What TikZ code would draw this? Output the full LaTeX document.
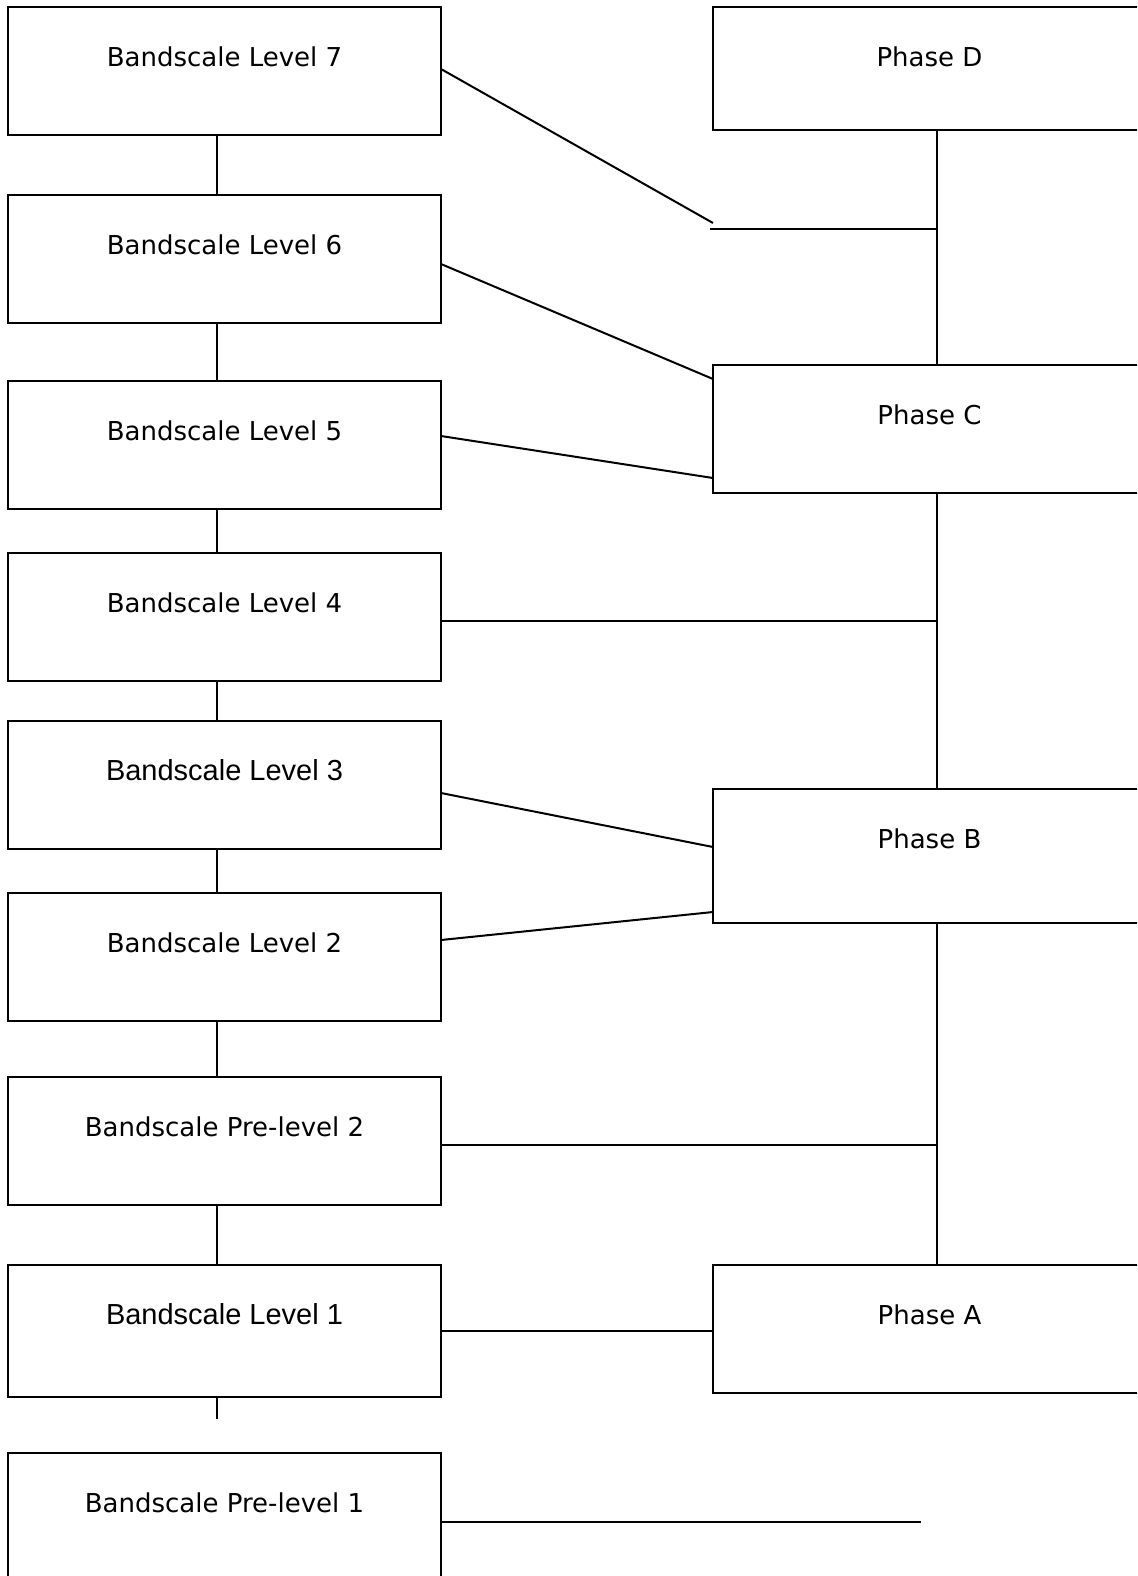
\documentclass[tikz,border=0pt]{standalone}
\usepackage{fontspec}
\setmainfont{DejaVu Sans}
\newfontfamily\arialfam{Liberation Sans}
\newcommand\verdanafont{\fontsize{13pt}{15pt}\selectfont}
\newcommand\arialfont{\arialfam\fontsize{14.5pt}{17pt}\selectfont}

\begin{document}
\begin{tikzpicture}
[x=0.5pt, y=-0.5pt,
  lineDecorate/.style={-,line width=1pt},%
  boxDecorate/.style={shape=rectangle,draw,line width=1pt,anchor=north west,
    inner sep=0pt,outer sep=0pt,minimum width=216.5pt,text height=29.75pt,
    font=\verdanafont}]
\useasboundingbox (0,0) rectangle (1137,1576);
\clip (0,0) rectangle (1137,1576);
%% bandscale boxes
\foreach \nodename/\y/\d/\txt in {L7/7/34.25/Bandscale Level 7,
  L6/195/34.25/Bandscale Level 6, L5/381/34.25/Bandscale Level 5,
  L4/553/34.25/Bandscale Level 4, L3/721/34.25/{\arialfont Bandscale Level 3},
  L2/893/34.25/Bandscale Level 2, PL2/1077/34.25/Bandscale Pre-level 2,
  L1/1265/36.25/{\arialfont Bandscale Level 1}, PL1/1453/34.25/Bandscale Pre-level 1}
{
  \node (\nodename) at (8,\y) [boxDecorate,text depth=\d pt] {\txt};
}
%% phase boxes
\foreach \nodename/\y/\d/\txt in {PhD/7/31.75/Phase D, PhC/365/34.25/Phase C,
  PhB/789/37.25/Phase B, PhA/1265/34.25/Phase A}
{
  \node (\nodename) at (713,\y) [boxDecorate,text depth=\d pt] {\txt};
}
%% spines and junctions
\coordinate (spineL) at (217,0);
\coordinate (spineR) at (937,0);
\coordinate (stubL) at (217,1419);
\coordinate (jD) at (937,229);
\coordinate (jDend) at (710,229);
\coordinate (jDdiag) at (713,223);
\coordinate (jC) at (937,621);
\coordinate (jB) at (937,1145);
\coordinate (endPL1) at (921,1522);
%% vertical lines
\foreach \startnode/\endnode in {L7/L6, L6/L5, L5/L4, L4/L3, L3/L2, L2/PL2, PL2/L1}
{
  \draw[lineDecorate] (\startnode.south -| spineL) -- (\endnode.north -| spineL);
}
\foreach \startnode/\endnode in {PhD/PhC, PhC/PhB, PhB/PhA}
{
  \draw[lineDecorate] (\startnode.south -| spineR) -- (\endnode.north -| spineR);
}
\draw[lineDecorate] (L1.south -| spineL) -- (stubL);
%% links to the phases
\draw[lineDecorate] ([yshift=1pt]L7.east) -- (jDdiag);
\draw[lineDecorate] (jDend) -- (jD);
\draw[lineDecorate] ([yshift=-2.5pt]L6.east) -- ([yshift=25pt]PhC.west);
\draw[lineDecorate] ([yshift=4.5pt]L5.east) -- ([yshift=-24.5pt]PhC.west);
\draw[lineDecorate] (L4.east |- jC) -- (jC);
\draw[lineDecorate] ([yshift=-4pt]L3.east) -- ([yshift=4.5pt]PhB.west);
\draw[lineDecorate] ([yshift=8.5pt]L2.east) -- ([yshift=-28pt]PhB.west);
\draw[lineDecorate] (PL2.east |- jB) -- (jB);
\draw[lineDecorate] (L1.east) -- (L1.east -| PhA.west);
\draw[lineDecorate] (PL1.east |- endPL1) -- (endPL1);
\end{tikzpicture}
\end{document}
